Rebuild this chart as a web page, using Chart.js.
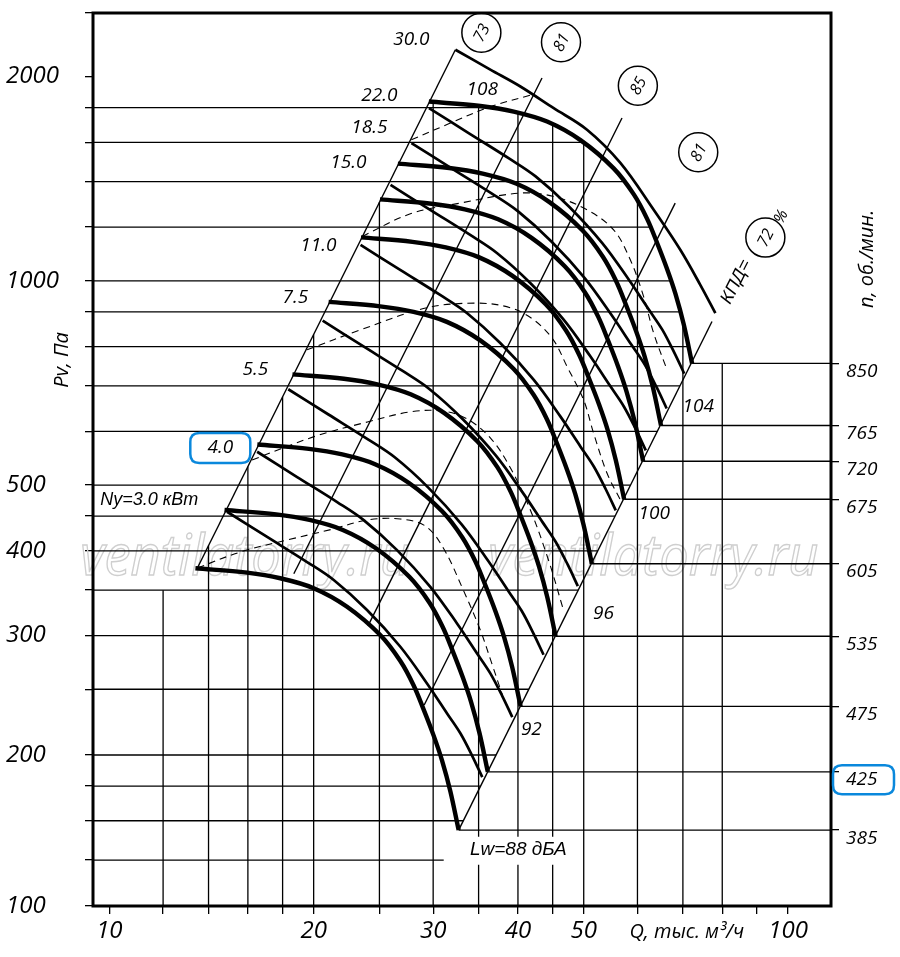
<!DOCTYPE html>
<html>
<head>
<meta charset="utf-8">
<script src="https://cdn.jsdelivr.net/npm/chart.js@4.4.0/dist/chart.umd.min.js"></script>
<style>
html,body{margin:0;padding:0;background:#fff;}
#wrap{width:900px;height:957px;position:relative;}
</style>
</head>
<body>
<div id="wrap"><canvas id="c"></canvas></div>
<script>
const FONT = '"Open Sans", "DejaVu Sans", sans-serif';
const FONT_CYR = '"Liberation Sans", "DejaVu Sans", sans-serif';

// ---------- axes ----------
const Q_MIN = 9.46, Q_MAX = 115.7, P_MIN = 119.8, P_MAX = 2482;
const qTicks = [10,12,14,16,18,20,25,30,35,40,45,50,60,70,80,90,100];
const qLabels = [10,20,30,40,50,100];
const qGrid = [12,14,16,18,20,25,30,35,40,45,50,60,70,80];
const pGrid = [1800,1600,1400,1200,1000,900,800,700,600,500,450,400,350,300,250,200,180,160,140];
const pLabels = [2000,1000,500,400,300,200];
const bottomLabel = '100';

// ---------- thick P-Q curves, one per rotation speed ----------
const rpmLevels = [385,425,475,535,605,675,720,765,850];
const thickQ = [
 [13.39,15.95,17.86,20.0,22.4,25.07,26.84,28.08,29.05,30.05,30.92,31.80,32.71],
 [14.78,17.61,19.72,22.08,24.73,27.67,29.63,31.00,32.07,33.17,34.13,35.10,36.11],
 [16.52,19.68,22.04,24.68,27.64,30.93,33.11,34.64,35.84,37.08,38.15,39.23,40.36],
 [18.61,22.16,24.82,27.79,31.13,34.84,37.30,39.02,40.37,41.76,42.97,44.19,45.45],
 [21.04,25.06,28.07,31.43,35.20,39.40,42.18,44.13,45.65,47.22,48.59,49.97,51.40],
 [23.48,27.96,31.31,35.07,39.27,43.95,47.06,49.23,50.93,52.69,54.21,55.75,57.35],
 [25.04,29.83,33.40,37.40,41.89,46.88,50.19,52.51,54.33,56.20,57.82,59.47,61.17],
 [26.61,31.69,35.49,39.74,44.51,49.81,53.33,55.80,57.72,59.71,61.44,63.19,64.99],
 [29.56,35.21,39.43,44.16,49.45,55.35,59.26,62.00,64.14,66.34,68.26,70.21,72.22]
];
const thickP = [
 [377,371.4,364.4,352.3,330.8,300.5,275.1,253.2,233.3,213.6,196.3,176.9,155.0],
 [459.4,452.6,444.1,429.3,403.1,366.2,335.3,308.5,284.3,260.3,239.2,215.6,188.9],
 [573.9,565.3,554.7,536.3,503.5,457.4,418.8,385.4,355.2,325.2,298.8,269.3,235.9],
 [728.0,717.2,703.7,680.3,638.8,580.3,531.3,488.9,450.5,412.5,379.1,341.6,299.3],
 [931.0,917.1,899.9,870.0,816.9,742.1,679.3,625.2,576.1,527.5,484.7,436.8,382.8],
 [1158.8,1141.6,1120.1,1082.9,1016.8,923.7,845.6,778.3,717.1,656.5,603.4,543.8,476.5],
 [1318.5,1298.9,1274.5,1232.1,1156.9,1051.0,962.1,885.5,815.9,747.0,686.5,618.6,542.1],
 [1488.5,1466.4,1438.7,1391.0,1306.1,1186.4,1086.2,999.6,921.1,843.3,775.0,698.4,612.0],
 [1837.6,1810.3,1776.2,1717.2,1612.4,1464.8,1340.9,1234.2,1137.2,1041.2,956.9,862.2,755.5]
];

// ---------- medium curves ----------
const mediumQ = [
 [14.91,17.08,19.56,21.41,23.97,26.84,29.38,31.45,32.90,34.26,35.44],
 [16.51,18.91,21.66,23.70,26.54,29.71,32.53,34.82,36.42,37.93,39.24],
 [18.35,21.03,24.08,26.36,29.51,33.04,36.17,38.71,40.50,42.17,43.63],
 [20.62,23.62,27.05,29.61,33.15,37.12,40.63,43.50,45.50,47.38,49.01],
 [23.45,26.86,30.76,33.67,37.70,42.21,46.21,49.46,51.74,53.88,55.74],
 [25.96,29.74,34.06,37.28,41.74,46.74,51.16,54.77,57.29,59.66,61.72],
 [27.87,31.93,36.57,40.02,44.81,50.17,54.92,58.79,61.50,64.05,66.25],
 [29.58,33.88,38.80,42.47,47.55,53.25,58.28,62.39,65.27,67.96,70.31]
];
const mediumP = [
 [456.7,419.2,385.0,362.2,327.1,288.8,255.0,230.3,215.3,199.3,185.5],
 [559.8,513.8,471.9,443.9,400.9,354.0,312.6,282.3,263.9,244.3,227.4],
 [692.1,635.3,583.4,548.9,495.7,437.6,386.4,349.0,326.3,302.0,281.1],
 [873.5,801.8,736.4,692.8,625.6,552.4,487.7,440.5,411.8,381.2,354.8],
 [1129.6,1036.8,952.3,895.9,809.0,714.3,630.7,569.6,532.5,492.9,458.8],
 [1384.9,1271.2,1167.5,1098.4,991.9,875.8,773.3,698.4,652.9,604.4,562.5],
 [1596.0,1465.0,1345.5,1265.8,1143.1,1009.3,891.1,804.8,752.4,696.5,648.3],
 [1797.3,1649.8,1515.2,1425.4,1287.3,1136.6,1003.6,906.3,847.3,784.3,730.0]
];

// ---------- dashed arches ----------
const dashedQ = [
 [13.48,15.60,18.29,21.38,24.00,26.84,29.22,31.05,33.23,35.20,36.67,37.94],
 [16.23,19.98,24.00,27.77,30.74,33.45,36.42,38.98,41.72,44.36,46.68],
 [19.56,23.43,29.38,34.81,38.98,42.20,45.10,47.25,49.98,51.70,54.12,56.62],
 [23.57,27.77,32.90,40.33,45.14,50.56,55.34,58.56,61.27,63.39,66.33],
 [27.86,31.80,36.42,41.96]
];
const dashedP = [
 [377.3,398.4,415.0,430.8,444.2,445.6,435.1,403.9,350.1,305.7,271.4,245.2],
 [544.5,588.8,619.4,641.0,643.2,628.0,586.8,530.1,459.4,387.7,327.1],
 [791.2,846.5,912.7,927.1,912.7,876.0,818.5,747.5,667.6,596.4,520.4,475.3],
 [1162.5,1255.5,1302,1347,1331.6,1272.6,1189,1074,948,837.4,739.2],
 [1614,1708,1806,1881]
];

// ---------- upper limit curve ----------
const envelopeQ = [32.35,36.42,40.33,45.10,50.56,56.62,63.39,69.38,74.25,78.15];
const envelopeP = [2191,2048,1934,1798,1670,1492,1272.6,1111,986.5,896.3];

// ---------- efficiency lines (КПД, %) ----------
const effLabels = ['73','81','85','81','72'];
const effTopQ = [32.35,43.4,56.93,68.2,77.27];
const effTopP = [2191,1991,1738,1302,871];
const effBottomQ = [13.48,18.7,24.05,29.1,32.71];
const effBottomP = [377.3,370,310,237,155.0];
const effLabelQ = [35.33,46.29,60.08,73.74,92.6];
const effLabelP = [2322,2247,1939,1547,1158];

// ---------- text labels ----------
const powerLabels = ['30.0','22.0','18.5','15.0','11.0','7.5','5.5','4.0','Ny=3.0 кВт'];
const powerLabelQ = [27.86,24.99,24.16,22.50,20.32,18.79,16.41,14.57,11.45];
const powerLabelP = [2267,1875,1681,1493,1126,943.9,739,567.1,475.3];
const soundLabels = ['108','104','100','96','92','Lw=88 дБА'];
const soundLabelQ = [35.44,73.74,63.53,53.45,41.86,40.05];
const soundLabelP = [1913,651.9,453.2,322.7,217.7,145.0];
const highlightPower = '4.0';
const highlightRpm = 425;
const watermark = 'ventilatorry.ru';
const watermarkQ = [15.86,63.32];
const watermarkP = 368.5;

// ---------- helpers ----------
const L = Math.log10;
function interpLL(xs, ys, x) {
  let i = 0;
  while (i < xs.length - 2 && x > xs[i + 1]) i++;
  const t = (L(x) - L(xs[i])) / (L(xs[i + 1]) - L(xs[i]));
  return Math.pow(10, L(ys[i]) + t * (L(ys[i + 1]) - L(ys[i])));
}
function qForP(qs, ps, p) {
  let i = 0;
  while (i < ps.length - 2 && p < ps[i + 1]) i++;
  const t = (L(p) - L(ps[i])) / (L(ps[i + 1]) - L(ps[i]));
  return Math.pow(10, L(qs[i]) + t * (L(qs[i + 1]) - L(qs[i])));
}
const top850Q = thickQ[8], top850P = thickP[8];
const endP850 = top850P[top850P.length - 1];
const diagRQ = [effBottomQ[4], effTopQ[4]], diagRP = [effBottomP[4], effTopP[4]];
const diagLQ = [effBottomQ[0], effTopQ[0]], diagLP = [effBottomP[0], effTopP[0]];
function gridRightQ(p) {
  if (p <= endP850) return interpLL(diagRP, diagRQ, p);
  return qForP(top850Q, top850P, p);
}
function gridTopP(q) {
  if (q < diagLQ[0]) return Math.max(...pGrid.filter(v => v < diagLP[0]));
  const c = [];
  if (q <= diagLQ[1]) c.push(interpLL(diagLQ, diagLP, q));
  if (q >= top850Q[0]) c.push(q <= top850Q[top850Q.length - 1] ? interpLL(top850Q, top850P, q) : endP850);
  return Math.min(...c);
}
function pts(qs, ps) { return qs.map((q, i) => ({x: q, y: ps[i]})); }
function line(data, o) {
  return Object.assign({data, showLine: true, pointRadius: 0, pointHoverRadius: 0, borderColor: '#000',
    backgroundColor: '#000', fill: false, tension: 0, borderCapStyle: 'butt', borderJoinStyle: 'round'}, o);
}
const CURVE_TENSION = 0.35;

// ---------- datasets ----------
const datasets = [];
pGrid.forEach(p => datasets.push(line([{x: Q_MIN, y: p}, {x: gridRightQ(p), y: p}], {borderWidth: 1.3, order: 10})));
qGrid.forEach(q => datasets.push(line([{x: q, y: P_MIN}, {x: q, y: gridTopP(q)}], {borderWidth: 1.3, order: 10})));
rpmLevels.forEach((n, i) => {
  const qe = thickQ[i][thickQ[i].length - 1], pe = thickP[i][thickP[i].length - 1];
  datasets.push(line([{x: qe, y: pe}, {x: Q_MAX, y: pe}], {borderWidth: 1.3, order: 10}));
});
effLabels.forEach((l, i) => datasets.push(line([{x: effBottomQ[i], y: effBottomP[i]}, {x: effTopQ[i], y: effTopP[i]}], {borderWidth: 1.4, order: 8})));
dashedQ.forEach((qs, i) => datasets.push(line(pts(qs, dashedP[i]), {borderWidth: 1.1, borderDash: [7, 5], tension: CURVE_TENSION, order: 7})));
mediumQ.forEach((qs, i) => datasets.push(line(pts(qs, mediumP[i]), {borderWidth: 2.7, tension: CURVE_TENSION, order: 5})));
datasets.push(line(pts(envelopeQ, envelopeP), {borderWidth: 2.7, tension: CURVE_TENSION, order: 4}));
thickQ.forEach((qs, i) => datasets.push(line(pts(qs, thickP[i]), {borderWidth: 4.4, tension: CURVE_TENSION, order: 3})));

const rpmEndP = thickP.map(a => a[a.length - 1]);

function roundRect(ctx, x, y, w, h, r) {
  ctx.beginPath();
  ctx.moveTo(x + r, y);
  ctx.lineTo(x + w - r, y); ctx.quadraticCurveTo(x + w, y, x + w, y + r);
  ctx.lineTo(x + w, y + h - r); ctx.quadraticCurveTo(x + w, y + h, x + w - r, y + h);
  ctx.lineTo(x + r, y + h); ctx.quadraticCurveTo(x, y + h, x, y + h - r);
  ctx.lineTo(x, y + r); ctx.quadraticCurveTo(x, y, x + r, y);
  ctx.closePath();
}

const decor = {
  id: 'decor',
  beforeDatasetsDraw(chart) {
    const {ctx, scales: {x, y}} = chart;
    ctx.save();
    ctx.font = 'italic 56px ' + FONT;
    ctx.textAlign = 'center'; ctx.textBaseline = 'alphabetic';
    ctx.strokeStyle = '#cfcfcf'; ctx.lineWidth = 1.4;
    watermarkQ.forEach(q => {
      const w = ctx.measureText(watermark).width;
      ctx.save();
      ctx.translate(x.getPixelForValue(q), y.getPixelForValue(watermarkP));
      ctx.scale(330 / w, 1);
      ctx.strokeText(watermark, 0, 0);
      ctx.restore();
    });
    ctx.restore();
  },
  afterDatasetsDraw(chart) {
    const {ctx, chartArea: a, scales: {x, y}} = chart;
    const px = q => x.getPixelForValue(q), py = p => y.getPixelForValue(p);
    ctx.save();
    // frame
    ctx.strokeStyle = '#000'; ctx.lineWidth = 3;
    ctx.strokeRect(a.left, a.top, a.right - a.left, a.bottom - a.top);

    ctx.fillStyle = '#000';
    ctx.textAlign = 'center'; ctx.textBaseline = 'middle';
    powerLabels.forEach((t, i) => {
      const cx = px(powerLabelQ[i]), cy = py(powerLabelP[i]);
      ctx.font = (/[а-яА-Я]/.test(t) ? 'italic 18px ' + FONT_CYR : 'italic 19px ' + FONT);
      ctx.fillText(t, cx, cy);
      if (t === highlightPower) {
        ctx.save(); ctx.strokeStyle = '#0a88dc'; ctx.lineWidth = 2.5;
        roundRect(ctx, cx - 30, cy - 15, 60, 30, 9); ctx.stroke(); ctx.restore();
      }
    });
    soundLabels.forEach((t, i) => {
      const cx = px(soundLabelQ[i]), cy = py(soundLabelP[i]);
      if (i === soundLabels.length - 1) {
        ctx.save(); ctx.fillStyle = '#fff';
        ctx.fillRect(cx - 56, cy - 13, 112, 28); ctx.restore();
        ctx.font = 'italic 19px ' + FONT_CYR;
      } else {
        ctx.font = 'italic 19px ' + FONT;
      }
      ctx.fillText(t, cx, cy);
    });
    // efficiency circles
    effLabels.forEach((t, i) => {
      const cx = px(effLabelQ[i]), cy = py(effLabelP[i]);
      ctx.save();
      ctx.lineWidth = 1.5; ctx.strokeStyle = '#000';
      ctx.beginPath(); ctx.arc(cx, cy, 19.5, 0, Math.PI * 2); ctx.stroke();
      ctx.translate(cx, cy); ctx.rotate(-1.1);
      ctx.font = 'italic 16px ' + FONT;
      ctx.fillText(t, 0, 1);
      ctx.restore();
    });
    ctx.save();
    ctx.translate(px(83.9), py(996.6)); ctx.rotate(-1.1);
    ctx.font = 'italic 18px ' + FONT_CYR; ctx.fillText('КПД=', 0, 0);
    ctx.restore();
    ctx.save();
    ctx.translate(px(97.75), py(1243)); ctx.rotate(-1.1);
    ctx.font = 'italic 16px ' + FONT; ctx.fillText('%', 0, 0);
    ctx.restore();
    // axis titles
    ctx.font = 'italic 20px ' + FONT;
    ctx.fillText('Q, тыс. м³/ч', px(70.93), a.bottom + 26);
    ctx.save();
    ctx.translate(a.left - 31, py(764.6)); ctx.rotate(-Math.PI / 2);
    ctx.fillText('Pv, Па', 0, 0);
    ctx.restore();
    ctx.save();
    ctx.translate(a.right + 36, py(1077.5)); ctx.rotate(-Math.PI / 2);
    ctx.fillText('n, об./мин.', 0, 0);
    ctx.restore();
    // highlighted rpm
    const ri = rpmLevels.indexOf(highlightRpm);
    const ry = py(rpmEndP[ri]) + 8;
    ctx.strokeStyle = '#0a88dc'; ctx.lineWidth = 2.5;
    roundRect(ctx, a.right + 2, ry - 14.5, 61, 29, 9); ctx.stroke();
    ctx.restore();
  }
};

new Chart(document.getElementById('c'), {
  type: 'scatter',
  data: {datasets},
  options: {
    responsive: true, maintainAspectRatio: false, animation: false, events: [],
    layout: {padding: {left: 6, top: 13, right: 0, bottom: 0}},
    plugins: {legend: {display: false}, tooltip: {enabled: false}},
    scales: {
      x: {
        type: 'logarithmic', position: 'bottom', min: Q_MIN, max: Q_MAX,
        afterBuildTicks: s => { s.ticks = qTicks.map(v => ({value: v})); },
        afterFit: s => { s.height = 51; s.paddingLeft = 0; s.paddingRight = 0; },
        border: {display: false},
        grid: {drawOnChartArea: false, drawTicks: true, tickLength: 8, color: '#000', lineWidth: 1.3},
        ticks: {autoSkip: false, maxRotation: 0, minRotation: 0, padding: 3, color: '#000',
          font: {family: FONT, size: 24, style: 'italic', lineHeight: 1.2},
          callback: v => qLabels.includes(v) ? String(v) : ''}
      },
      y: {
        type: 'logarithmic', position: 'left', min: P_MIN, max: P_MAX,
        afterBuildTicks: s => {
          const vals = Array.from(new Set([P_MIN, ...pGrid, ...pLabels, P_MAX])).sort((a, b) => a - b);
          s.ticks = vals.map(v => ({value: v}));
        },
        afterFit: s => { s.width = 87; s.paddingTop = 0; s.paddingBottom = 0; },
        border: {display: false},
        grid: {drawOnChartArea: false, drawTicks: true, tickLength: 8, color: '#000', lineWidth: 1.3},
        ticks: {autoSkip: false, crossAlign: 'far', padding: 0, color: '#000',
          font: {family: FONT, size: 24, style: 'italic', lineHeight: 1},
          callback: v => v === P_MIN ? bottomLabel : (pLabels.includes(v) ? String(v) : '')}
      },
      y2: {
        type: 'logarithmic', position: 'right', min: P_MIN, max: P_MAX,
        afterBuildTicks: s => { s.ticks = rpmEndP.slice().sort((a, b) => a - b).map(v => ({value: v})); },
        afterFit: s => { s.width = 69; s.paddingTop = 0; s.paddingBottom = 0; },
        border: {display: false},
        grid: {drawOnChartArea: false, drawTicks: true, tickLength: 8, color: '#000', lineWidth: 1.3},
        ticks: {autoSkip: false, padding: 7, labelOffset: 8, color: '#000',
          font: {family: FONT, size: 19, style: 'italic', lineHeight: 1},
          callback: v => { const i = rpmEndP.indexOf(v); return i >= 0 ? String(rpmLevels[i]) : ''; }}
      }
    }
  },
  plugins: [decor]
});
</script>
</body>
</html>
